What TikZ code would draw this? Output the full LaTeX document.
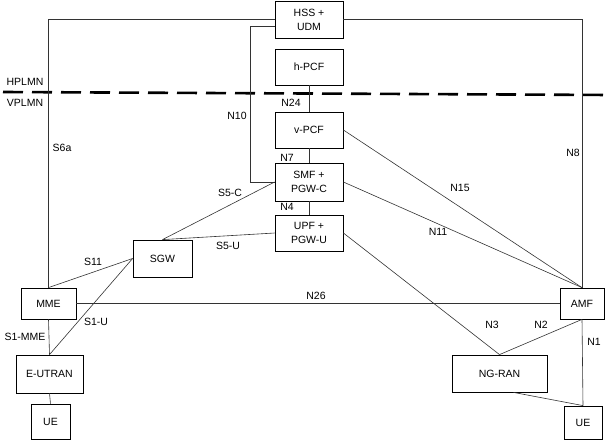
\documentclass[tikz,border=0pt]{standalone}
\usepackage{fontspec}
\setmainfont{Liberation Sans}
\usetikzlibrary{calc, positioning}

\tikzset{
  nf/.style={draw, line width=0.8pt, inner sep=0pt, align=center,
    font=\fontsize{10.5}{14}\selectfont},
  link/.style={draw=black!80, line width=0.6pt},
  lbl/.style={font=\fontsize{10.5}{12}\selectfont, inner sep=0pt},
}

\begin{document}
\begin{tikzpicture}[x=1pt, y=-1pt]
  \useasboundingbox (0,0) rectangle (610,444);
  % Home network
  \node[nf, minimum width=68pt, minimum height=37pt] (hss) at (309,19.5) {HSS +\\UDM};
  \node[nf, minimum width=68pt, minimum height=36pt] (hpcf) at (309,67) {h-PCF};
  % PLMN border
  \draw[line width=2.6pt, dash pattern=on 20pt off 9pt] (3,92) -- (610,95);
  \node[lbl] (hplmn) at (25,82) {HPLMN};
  \node[lbl] (vplmn) at (25,103) {VPLMN};
  % Visited network
  \node[nf, minimum width=68pt, minimum height=36pt] (vpcf) at (309,130) {v-PCF};
  \node[nf, minimum width=68pt, minimum height=38pt] (smf) at (309,182) {SMF +\\PGW-C};
  \node[nf, minimum width=68pt, minimum height=36pt] (upf) at (309,233) {UPF +\\PGW-U};
  \node[nf, minimum width=59pt, minimum height=37pt] (sgw) at (162.5,258.5) {SGW};
  \node[nf, minimum width=55pt, minimum height=31pt] (mme) at (48.5,303.5) {MME};
  \node[nf, minimum width=67pt, minimum height=38pt] (eutran) at (49.5,374) {E-UTRAN};
  \node[nf, minimum width=39pt, minimum height=35pt] (ueL) at (50.5,421.5) {UE};
  \node[nf, minimum width=44pt, minimum height=31pt] (amf) at (582,303.5) {AMF};
  \node[nf, minimum width=95pt, minimum height=37pt] (ngran) at (499.5,373.5) {NG-RAN};
  \node[nf, minimum width=38pt, minimum height=33pt] (ueR) at (583,422.5) {UE};
  % Reference points
  \draw[link] (mme.north) |- (hss.west);
  \draw[link] (hss.east) -| (amf.north);
  \draw[link] ([yshift=-6.5pt]hss.west) -- ++(-24,0) |- (smf.west);
  \draw[link] (hpcf) -- (vpcf);
  \draw[link] (vpcf) -- (smf);
  \draw[link] (smf) -- (upf);
  \draw[link] (vpcf.east) -- (amf.north);
  \draw[link] (smf.east) -- (amf.north);
  \draw[link] (smf.west) -- (sgw.north);
  \draw[link] (upf.west) -- (sgw.north);
  \draw[link] (mme.north) -- (sgw.west);
  \draw[link] (eutran.north) -- (sgw.west);
  \draw[link] (mme.south) -- (eutran.north);
  \draw[link] (eutran.south) -- (ueL.north);
  \draw[link] (mme.east) -- (amf.west);
  \draw[link] (upf.east) -- (ngran.north);
  \draw[link] (amf.south) -- (ngran.north);
  \draw[link] (amf.south) -- (ueR.north);
  \draw[link] ([xshift=14pt]ngran.south) -- (ueR.north);
  % Labels
  \node[lbl] (lS6a) at (62,148) {S6a};
  \node[lbl] (lN8) at (573,153) {N8};
  \node[lbl] (lN10) at (237,116) {N10};
  \node[lbl] (lN24) at (291,103) {N24};
  \node[lbl] (lN7) at (287,158) {N7};
  \node[lbl] (lN4) at (287,207) {N4};
  \node[lbl] (lN15) at (460,188) {N15};
  \node[lbl] (lN11) at (438,232) {N11};
  \node[lbl] (lS5C) at (230,193) {S5-C};
  \node[lbl] (lS5U) at (228,246) {S5-U};
  \node[lbl] (lS11) at (93,262) {S11};
  \node[lbl] (lS1U) at (96,322) {S1-U};
  \node[lbl] (lS1MME) at (25,337) {S1-MME};
  \node[lbl] (lN26) at (316,296) {N26};
  \node[lbl] (lN3) at (492,325) {N3};
  \node[lbl] (lN2) at (541,325) {N2};
  \node[lbl] (lN1) at (594,342) {N1};
\end{tikzpicture}
\end{document}
